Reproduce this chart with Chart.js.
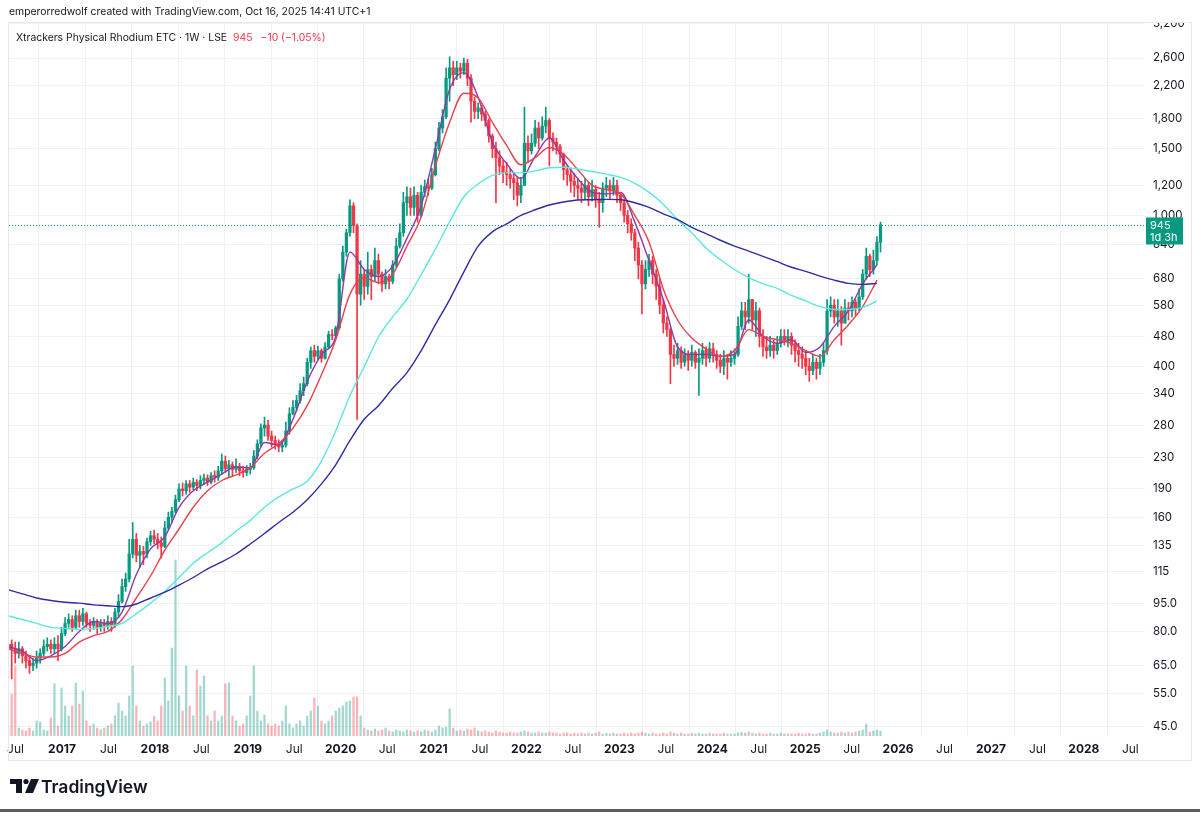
<!DOCTYPE html>
<html>
<head>
<meta charset="utf-8">
<script src="https://cdn.jsdelivr.net/npm/chart.js@4.4.0/dist/chart.umd.min.js"></script>
<style>
html, body { margin: 0; padding: 0; background: #fff; }
#wrap { width: 1200px; height: 813px; }
</style>
</head>
<body>
<div id="wrap"><canvas id="chart" width="1200" height="813"></canvas></div>
<script>
const startYear = 2016.42;
const daysPerBar = 14;
const firstOpen = 72;

const closes = [
  74, 72, 70, 72, 69, 67, 65, 66, 68, 70,
  73, 74, 72, 74, 72, 79, 84, 86, 82, 88,
  85, 89, 84, 83, 85, 82, 84, 83, 85, 83,
  90, 96, 105, 110, 128, 140, 127, 130, 128, 138,
  143, 140, 137, 134, 150, 160, 166, 178, 190, 188,
  196, 192, 198, 194, 200, 203, 198, 206, 204, 212,
  225, 215, 220, 214, 218, 212, 210, 214, 216, 232,
  250, 275, 280, 262, 255, 250, 245, 248, 270, 300,
  312, 325, 345, 360, 410, 440, 425, 440, 420, 450,
  485, 482, 505, 680, 800, 900, 1060, 940, 620, 700,
  650, 720, 690, 760, 700, 660, 690, 670, 740, 830,
  900, 1080, 1120, 1050, 1130, 1000, 1150, 1190, 1180, 1280,
  1500, 1700, 1820, 2300, 2450, 2350, 2450, 2400, 2520, 2300,
  2000, 1880, 1920, 1850, 1780, 1620, 1500, 1420, 1350, 1300,
  1280, 1250, 1220, 1130, 1200, 1550, 1480, 1550, 1700, 1600,
  1720, 1780, 1600, 1560, 1520, 1450, 1320, 1280, 1230, 1200,
  1180, 1150, 1200, 1120, 1170, 1100, 1080, 1180, 1200, 1160,
  1200, 1130, 1080, 1000, 950, 900, 820, 740, 660, 720,
  760, 700, 650, 580, 520, 500, 430, 420, 440, 410,
  430, 415, 435, 410, 420, 440, 420, 445, 430, 415,
  400, 420, 410, 420, 430, 510, 560, 540, 600, 530,
  560, 480, 450, 440, 455, 440, 460, 480, 470, 480,
  455, 440, 430, 420, 400, 390, 410, 395, 410, 440,
  560, 580, 540, 560, 520, 570, 560, 590, 570, 610,
  700, 780, 720, 760, 850, 945
];
const highs = [
  78, 76, 75, 75, 73, 71, 69, 68, 71, 72,
  76, 77, 76, 77, 78, 82, 87, 89, 88, 91,
  91, 92, 90, 86, 87, 86, 86, 86, 88, 87,
  92, 100, 110, 114, 140, 155, 145, 135, 134, 141,
  147, 148, 145, 142, 156, 165, 170, 183, 196, 197,
  200, 200, 203, 201, 206, 208, 207, 210, 212, 218,
  235, 232, 226, 224, 228, 222, 218, 219, 222, 240,
  256, 282, 294, 288, 270, 262, 256, 254, 285, 311,
  325, 335, 360, 375, 420, 450, 455, 452, 445, 462,
  495, 500, 510, 700, 830, 920, 1100, 1080, 950, 760,
  720, 800, 740, 820, 790, 710, 720, 700, 760, 870,
  950, 1150, 1190, 1180, 1190, 1150, 1200, 1240, 1250, 1330,
  1560, 1760, 1900, 2450, 2620, 2550, 2550, 2520, 2600, 2580,
  2350, 2050, 1980, 1950, 1880, 1800, 1640, 1560, 1480, 1400,
  1380, 1330, 1300, 1260, 1260, 1930, 1620, 1640, 1780, 1760,
  1820, 1930, 1800, 1650, 1600, 1540, 1460, 1350, 1320, 1290,
  1250, 1230, 1250, 1220, 1240, 1200, 1150, 1220, 1260, 1240,
  1260, 1240, 1150, 1100, 1030, 980, 920, 850, 760, 760,
  790, 780, 720, 680, 600, 540, 505, 455, 460, 450,
  445, 440, 455, 440, 445, 460, 450, 462, 460, 440,
  430, 440, 430, 440, 445, 540, 590, 590, 700, 600,
  590, 570, 500, 480, 480, 470, 480, 500, 500, 500,
  490, 470, 460, 450, 440, 420, 430, 420, 430, 460,
  600, 610, 600, 600, 575, 600, 590, 610, 600, 640,
  720, 820, 790, 810, 880, 960
];
const lows = [
  70, 60, 66, 68, 66, 64, 62, 63, 64, 66,
  69, 71, 70, 70, 67, 71, 78, 82, 80, 81,
  82, 83, 82, 80, 81, 79, 80, 80, 81, 80,
  82, 87, 95, 102, 108, 125, 122, 118, 120, 125,
  135, 136, 132, 125, 133, 148, 155, 164, 176, 182,
  184, 186, 189, 188, 190, 195, 194, 196, 198, 200,
  208, 210, 205, 205, 210, 206, 204, 206, 208, 214,
  228, 246, 262, 255, 245, 242, 238, 238, 245, 265,
  298, 305, 320, 335, 355, 395, 410, 415, 410, 418,
  445, 470, 475, 500, 670, 780, 880, 900, 290, 580,
  600, 620, 600, 670, 660, 630, 640, 640, 660, 730,
  820, 880, 1000, 1000, 1000, 960, 990, 1120, 1130, 1170,
  1270, 1480, 1650, 1800, 2000, 2200, 2280, 2300, 2350, 2200,
  1760, 1800, 1800, 1780, 1720, 1560, 1420, 1080, 1280, 1220,
  1200, 1180, 1100, 1060, 1080, 1200, 1380, 1450, 1520, 1500,
  1580, 1650, 1350, 1480, 1450, 1380, 1240, 1200, 1150, 1120,
  1100, 1080, 1100, 1060, 1090, 1050, 930, 1020, 1120, 1100,
  1130, 1080, 1030, 960, 900, 860, 760, 680, 550, 640,
  690, 660, 600, 550, 490, 480, 360, 400, 405, 395,
  400, 390, 400, 395, 335, 405, 400, 410, 410, 395,
  385, 380, 370, 400, 405, 425, 500, 500, 520, 500,
  480, 450, 425, 420, 425, 420, 430, 450, 455, 450,
  430, 410, 400, 395, 380, 365, 380, 370, 380, 400,
  430, 540, 520, 510, 455, 520, 530, 540, 545, 560,
  600, 680, 690, 700, 740, 800
];
const volumes = [
  10, 42, 70, 8, 6, 5, 8, 5, 15, 14,
  6, 5, 18, 52, 10, 48, 30, 20, 30, 53,
  32, 45, 15, 10, 12, 8, 6, 8, 10, 12,
  20, 33, 25, 20, 40, 70, 30, 15, 10, 12,
  14, 20, 15, 30, 58, 35, 88, 176, 40, 25,
  70, 30, 20, 66, 50, 60, 20, 15, 25, 15,
  20, 52, 53, 20, 15, 10, 12, 20, 40, 70,
  25, 15, 21, 12, 10, 12, 10, 15, 30, 12,
  8, 12, 15, 10, 20, 25, 38, 30, 15, 12,
  15, 20, 25, 28, 30, 34, 35, 39, 39, 20,
  8, 6, 5, 7, 5, 6, 8, 5, 4, 6,
  5, 4, 6, 5, 4, 5, 4, 6, 5, 4,
  6, 10, 8, 9, 27, 8, 5, 6, 5, 7,
  6, 8, 5, 4, 5, 4, 3, 5, 4, 3,
  3, 4, 3, 3, 4, 5, 4, 3, 3, 4,
  3, 3, 4, 3, 3, 2, 3, 3, 2, 3,
  2, 3, 2, 3, 2, 3, 4, 2, 3, 2,
  3, 2, 2, 3, 2, 3, 2, 3, 4, 3,
  2, 3, 2, 2, 3, 2, 4, 3, 2, 3,
  2, 2, 3, 2, 3, 2, 2, 3, 2, 2,
  2, 3, 2, 2, 2, 3, 4, 3, 4, 3,
  2, 3, 2, 2, 3, 2, 2, 3, 2, 2,
  2, 2, 3, 2, 2, 3, 2, 2, 3, 4,
  6, 4, 3, 3, 4, 3, 4, 3, 4, 5,
  6, 12, 4, 5, 6, 5
];

// moving averages, one reading every 4 bars
const maStep = 4;
const maPurple = [
  73, 71, 67, 69, 73, 80, 85, 84, 90, 113,
  132, 142, 170, 188, 198, 208, 217, 216, 252, 248,
  290, 365, 430, 480, 800, 720, 690, 735, 870, 1060,
  1500, 2150, 2380, 2050, 1560, 1370, 1250, 1430, 1600, 1400,
  1250, 1150, 1140, 1150, 960, 760, 600, 450, 430, 430,
  425, 430, 530, 480, 460, 470, 435, 450, 510, 560,
  660, 740
];
const maRed = [
  72, 70, 68.5, 68.5, 70, 75, 78, 80, 86, 98,
  112, 131, 149, 170, 188, 200, 207, 216, 236, 250,
  275, 315, 380, 470, 620, 685, 665, 700, 830, 990,
  1350, 1760, 2100, 2040, 1760, 1530, 1360, 1420, 1510, 1450,
  1320, 1200, 1170, 1140, 1000, 850, 640, 530, 475, 445,
  425, 440, 500, 480, 470, 460, 440, 425, 470, 515,
  575, 675
];
const maCyan = [
  88, 86, 84, 82, 81.5, 81, 81.5, 82.5, 84, 89,
  95, 102, 111, 121, 129, 137, 147, 157, 170, 181,
  190, 199, 225, 270, 335, 399, 478, 540, 602, 698,
  815, 962, 1120, 1210, 1275, 1295, 1295, 1310, 1335, 1340,
  1325, 1305, 1285, 1260, 1215, 1150, 1070, 975, 900, 820,
  765, 720, 685, 660, 642, 615, 595, 575, 565, 565,
  572, 595
];
const maNavy = [
  103, 100.5, 98, 96.5, 95.5, 95, 94, 93.5, 93, 94.5,
  98, 101.5, 106, 111, 117, 122, 128, 136, 145, 155,
  165, 178, 196, 220, 255, 290, 315, 350, 385, 440,
  515, 600, 710, 830, 905, 950, 1000, 1035, 1065, 1085,
  1098, 1100, 1102, 1100, 1080, 1050, 1010, 975, 930, 895,
  860, 830, 805, 780, 755, 730, 712, 692, 675, 662,
  658, 662
];

const yTicks = [3200, 2600, 2200, 1800, 1500, 1200, 1000, 840, 680, 580, 480, 400,
  340, 280, 230, 190, 160, 135, 115, 95, 80, 65, 55, 45];
const xTicks = [2016.5, 2017, 2017.5, 2018, 2018.5, 2019, 2019.5, 2020, 2020.5, 2021, 2021.5,
  2022, 2022.5, 2023, 2023.5, 2024, 2024.5, 2025, 2025.5, 2026, 2026.5, 2027, 2027.5, 2028, 2028.5];
const lastPrice = 945;

const UP = '#089981';
const DOWN = '#f23645';
const FONT = 'Inter, "Noto Sans", sans-serif';

function barYear(i) {
  return startYear + i * daysPerBar / 365.25;
}

const opens = closes.map((c, i) => i === 0 ? firstOpen : closes[i - 1]);
const isUp = closes.map((c, i) => c >= opens[i]);

function maData(arr) {
  return arr.map((v, k) => ({ x: barYear(k * maStep), y: v }));
}

function lineSet(arr, color) {
  return {
    type: 'line',
    data: maData(arr),
    borderColor: color,
    borderWidth: 1.4,
    pointRadius: 0,
    cubicInterpolationMode: 'monotone',
    yAxisID: 'y',
    order: 1
  };
}

const decoPlugin = {
  id: 'deco',
  afterDraw(chart) {
    const ctx = chart.ctx;
    const ys = chart.scales.y;
    ctx.save();

    // pane frame
    ctx.fillStyle = '#ffffff';
    ctx.fillRect(0, 0, 1200, 22);
    ctx.strokeStyle = '#e6e8ee';
    ctx.lineWidth = 1;
    ctx.strokeRect(8.5, 22.5, 1183, 738);

    // header
    ctx.fillStyle = '#131722';
    ctx.font = '10.4px ' + FONT;
    ctx.textBaseline = 'middle';
    ctx.fillText('emperorredwolf created with TradingView.com, Oct 16, 2025 14:41 UTC+1', 9, 12);
    const title = 'Xtrackers Physical Rhodium ETC · 1W · LSE';
    ctx.fillText(title, 16, 38);
    const tx = 16 + ctx.measureText(title).width + 6;
    ctx.fillStyle = DOWN;
    ctx.fillText('945', tx, 38);
    ctx.fillText('−10 (−1.05%)', tx + ctx.measureText('945').width + 8, 38);

    // last price line + label
    const py = Math.round(ys.getPixelForValue(lastPrice)) + 0.5;
    ctx.strokeStyle = UP;
    ctx.setLineDash([1, 2]);
    ctx.beginPath();
    ctx.moveTo(chart.chartArea.left, py);
    ctx.lineTo(1147, py);
    ctx.stroke();
    ctx.setLineDash([]);
    ctx.fillStyle = UP;
    ctx.fillRect(1146, py - 8, 37, 27);
    ctx.fillStyle = '#ffffff';
    ctx.font = '11px ' + FONT;
    ctx.fillText('945', 1150, py);
    ctx.fillText('1d 3h', 1150, py + 12);

    // TradingView logo
    ctx.fillStyle = '#131722';
    ctx.fillRect(10, 779, 12, 5);
    ctx.fillRect(16, 779, 6, 14);
    ctx.beginPath();
    ctx.arc(26, 781.5, 2.6, 0, Math.PI * 2);
    ctx.fill();
    ctx.beginPath();
    ctx.moveTo(31, 779);
    ctx.lineTo(39, 779);
    ctx.lineTo(33, 793);
    ctx.lineTo(25, 793);
    ctx.closePath();
    ctx.fill();
    ctx.font = '600 17.5px ' + FONT;
    ctx.textBaseline = 'alphabetic';
    ctx.fillText('TradingView', 41, 793);

    // bottom rule
    ctx.fillStyle = '#5c5c5c';
    ctx.fillRect(0, 809, 1200, 3);
    ctx.restore();
  }
};

function xTickFont(c) {
  const isYear = c.tick && Number.isInteger(c.tick.value);
  return { family: FONT, size: 12, weight: isYear ? 'bold' : 'normal' };
}

new Chart(document.getElementById('chart'), {
  type: 'bar',
  data: {
    datasets: [
      {
        label: 'Volume',
        data: volumes.map((v, i) => ({ x: barYear(i), y: v })),
        backgroundColor: volumes.map((v, i) => isUp[i] ? 'rgba(8,153,129,0.38)' : 'rgba(242,54,69,0.38)'),
        barThickness: 1.6,
        grouped: false,
        yAxisID: 'yv',
        order: 10
      },
      {
        label: 'Wicks',
        data: closes.map((c, i) => ({ x: barYear(i), y: [lows[i], highs[i]] })),
        backgroundColor: isUp.map(u => u ? UP : DOWN),
        barThickness: 1,
        grouped: false,
        yAxisID: 'y',
        order: 5
      },
      {
        label: 'Bodies',
        data: closes.map((c, i) => ({ x: barYear(i), y: [opens[i], c] })),
        backgroundColor: isUp.map(u => u ? UP : DOWN),
        barThickness: 2.6,
        minBarLength: 1,
        grouped: false,
        yAxisID: 'y',
        order: 4
      },
      lineSet(maNavy, '#2f2ca3'),
      lineSet(maCyan, '#5ee6df'),
      lineSet(maRed, '#e5414e'),
      lineSet(maPurple, '#8c3aa8')
    ]
  },
  options: {
    responsive: false,
    animation: false,
    events: [],
    layout: { padding: { left: 9, top: 23, right: 0, bottom: 53 } },
    plugins: { legend: { display: false }, tooltip: { enabled: false } },
    scales: {
      x: {
        type: 'linear',
        min: 2016.4295,
        max: 2028.658,
        offset: false,
        grid: { color: '#f0f2f6', drawTicks: false },
        border: { display: false },
        ticks: {
          padding: 6,
          maxRotation: 0,
          autoSkip: false,
          color: '#131722',
          font: xTickFont,
          callback: v => Number.isInteger(v) ? String(v) : 'Jul'
        },
        afterBuildTicks: s => { s.ticks = xTicks.map(v => ({ value: v })); },
        afterFit: s => { s.height = 24; }
      },
      y: {
        type: 'logarithmic',
        position: 'right',
        min: 42.4,
        max: 3216,
        grid: { color: '#f0f2f6', drawTicks: false },
        border: { display: false },
        ticks: {
          padding: 8,
          autoSkip: false,
          color: '#131722',
          font: { family: FONT, size: 11.5 },
          callback: v => v >= 1000 ? v.toLocaleString('en-US') : (v < 100 ? v.toFixed(1) : String(v))
        },
        afterBuildTicks: s => { s.ticks = yTicks.map(v => ({ value: v })); },
        afterFit: s => { s.width = 55; }
      },
      yv: {
        type: 'linear',
        display: false,
        min: 0,
        max: 713
      }
    }
  },
  plugins: [decoPlugin]
});
</script>
</body>
</html>
